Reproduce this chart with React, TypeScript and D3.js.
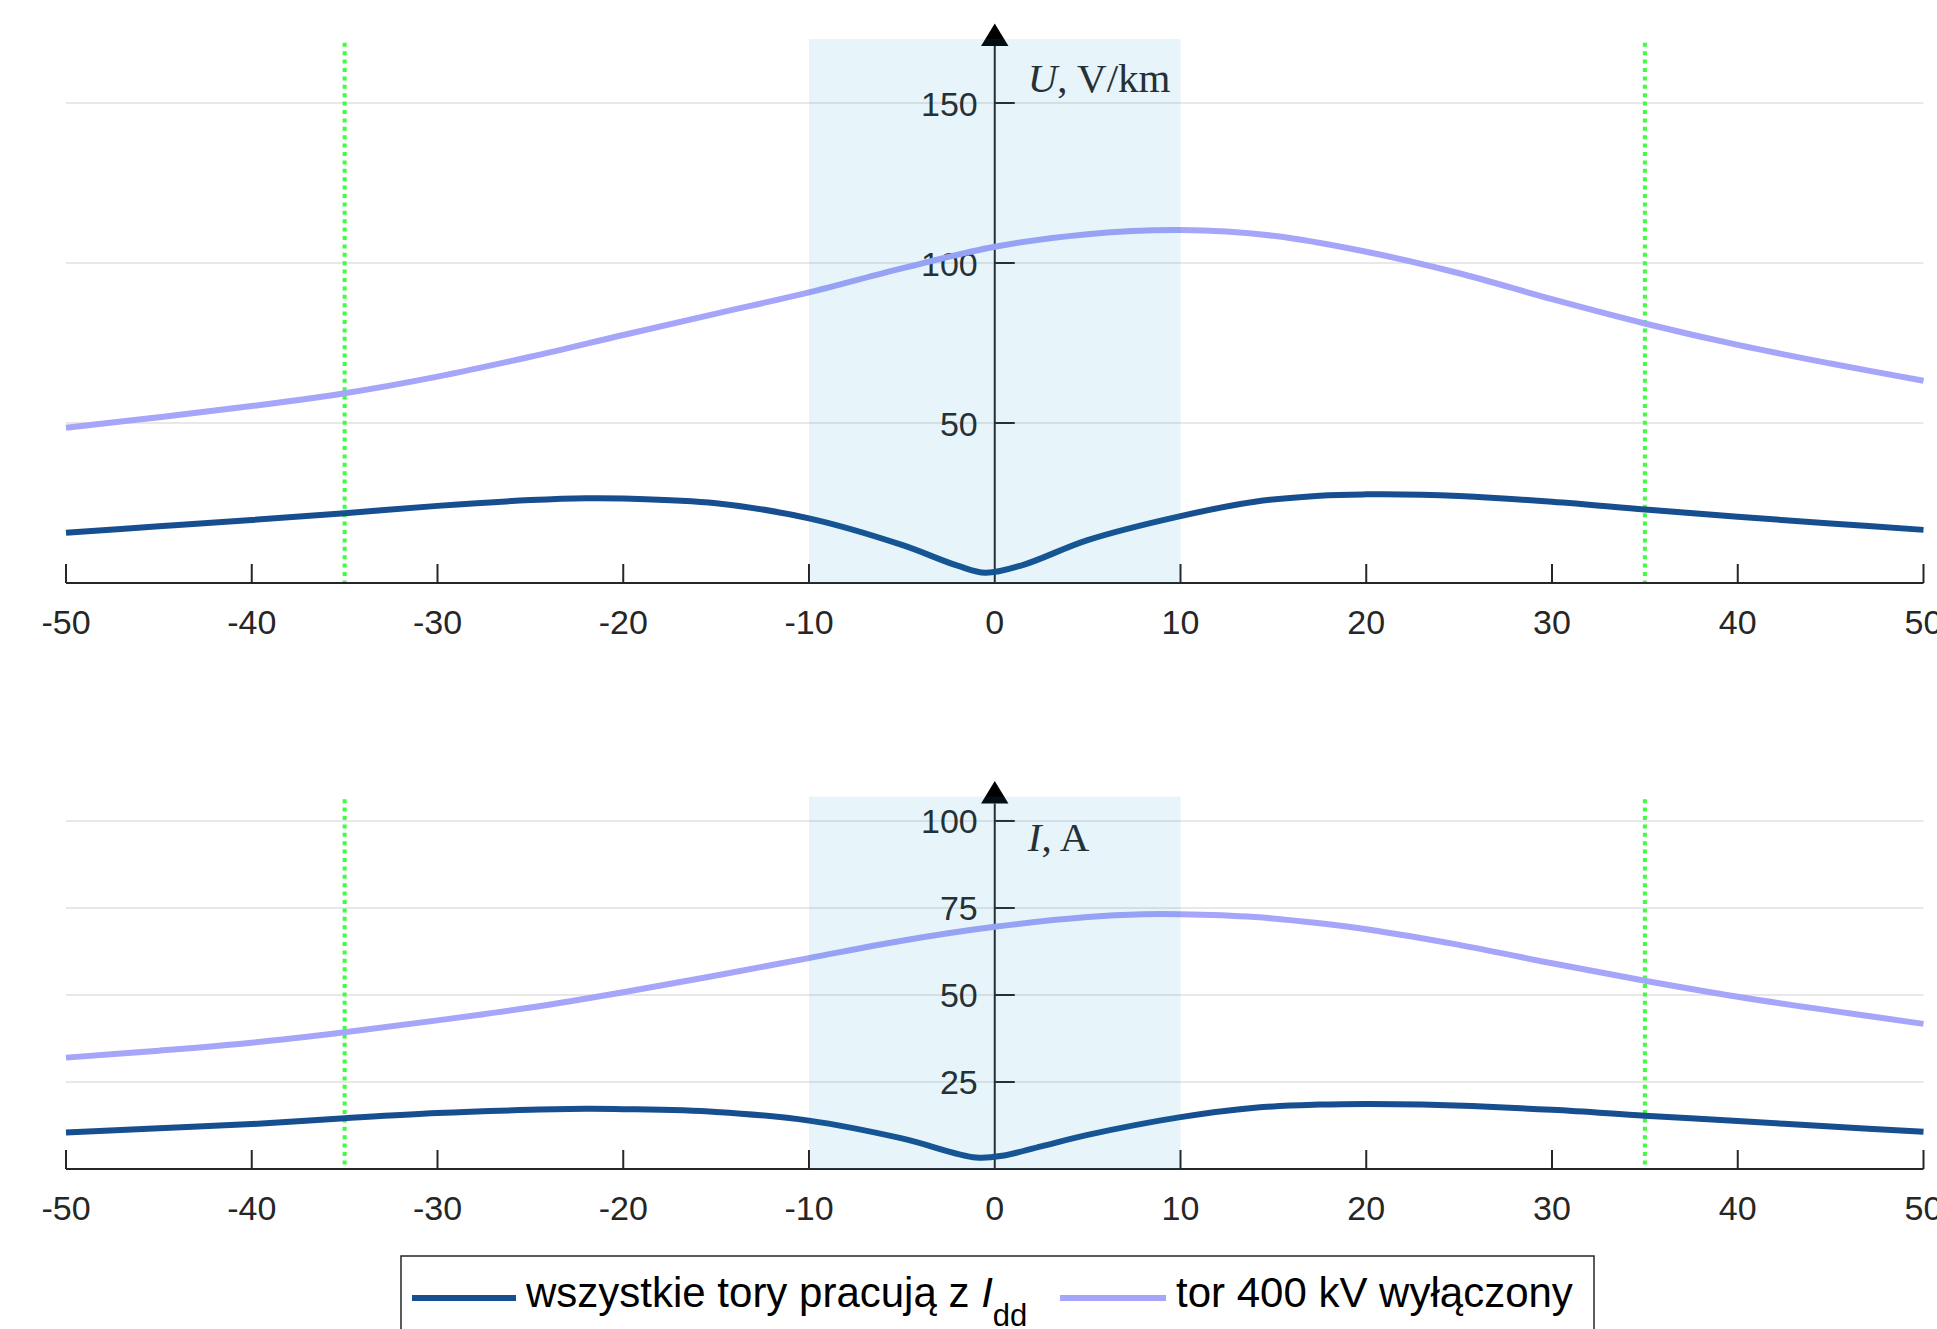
import React from 'react';
import * as d3 from 'd3';

// U, V/km  (top panel)
const uAllX = [-50, -45, -40, -35, -30, -25, -22, -20, -15, -10, -5, -2, -0.5, 1.5, 5, 10, 14, 17.5, 20, 23, 25, 30, 35, 40, 45, 50];
const uAllY = [15.7, 17.7, 19.7, 21.8, 24.1, 25.9, 26.5, 26.4, 24.9, 20.2, 11.9, 5.4, 3.2, 5.6, 13.4, 20.9, 25.4, 27.3, 27.7, 27.6, 27.2, 25.4, 23, 20.7, 18.6, 16.6];
const uOffX = [-50, -45, -40, -35, -30, -25, -20, -15, -10, -5, 0, 5, 10, 15, 20, 25, 30, 35, 40, 45, 50];
const uOffY = [48.5, 51.8, 55.3, 59.3, 64.5, 70.7, 77.5, 84.2, 90.8, 98.3, 105.1, 109, 110.3, 108.5, 103.5, 96.8, 88.7, 81.1, 74.4, 68.6, 63.2];

// I, A  (bottom panel)
const iAllX = [-50, -45, -40, -35, -30, -25, -22, -20, -15, -10, -5, -1, 0.5, 2.5, 5, 10, 14, 17.5, 20, 23, 30, 35, 40, 45, 50];
const iAllY = [10.5, 11.7, 12.9, 14.6, 16.1, 17.0, 17.3, 17.2, 16.4, 13.9, 8.8, 3.3, 3.9, 6.5, 9.8, 14.9, 17.6, 18.5, 18.7, 18.5, 17, 15.3, 13.8, 12.2, 10.7];
const iOffX = [-50, -45, -40, -35, -30, -25, -20, -15, -10, -5, 0, 5, 8, 10, 14, 17.5, 20, 25, 30, 35, 40, 45, 50];
const iOffY = [32, 34, 36.3, 39.3, 42.7, 46.4, 50.8, 55.6, 60.6, 65.6, 69.6, 72.4, 73.2, 73.2, 72.4, 70.6, 68.9, 64.4, 59.1, 54.1, 49.5, 45.5, 41.7];

const xTicks = [-50, -40, -30, -20, -10, 0, 10, 20, 30, 40, 50];
const uTicks = [0, 50, 100, 150];
const iTicks = [0, 25, 50, 75, 100];
const zoneX = [-10, 10];
const borderX = [-35, 35];

const legendLabels = ['wszystkie tory pracują z ', 'tor 400 kV wyłączony'];

const C_ALL = '#164E8F';
const C_OFF = '#A5A5FA';
const C_TXT = '#262626';
const SANS = '"Liberation Sans", Arial, Helvetica, sans-serif';
const SERIF = '"Liberation Serif", "Times New Roman", serif';

const x = d3.scaleLinear().domain([-50, 50]).range([66, 1923.5]);

type PanelProps = {
  yMax: number;
  top: number;
  bottom: number;
  ticks: number[];
  series: { xs: number[]; ys: number[]; color: string }[];
  sym: string;
  unit: string;
  labelY: number;
};

function Panel({ yMax, top, bottom, ticks, series, sym, unit, labelY }: PanelProps) {
  const y = d3.scaleLinear().domain([0, yMax]).range([bottom, top]);
  const line = d3.line<[number, number]>()
    .x(d => x(d[0]))
    .y(d => y(d[1]))
    .curve(d3.curveCatmullRom.alpha(0.5));
  const x0 = x(0);
  const arrowBase = top + 7;
  const arrowTip = arrowBase - 22.5;
  return (
    <g>
      {/* grid */}
      {ticks.filter(t => t > 0).map(t => (
        <line key={t} x1={x(-50)} x2={x(50)} y1={y(t)} y2={y(t)} stroke="#e0e0e0" strokeWidth={1.5} />
      ))}
      {/* border lines */}
      {borderX.map(b => (
        <line key={b} x1={x(b)} x2={x(b)} y1={y(yMax * 0.993)} y2={bottom}
          stroke="#3CFF3C" strokeWidth={4} strokeDasharray="4,4.4" />
      ))}
      {/* x axis */}
      <line x1={x(-50)} x2={x(50)} y1={bottom} y2={bottom} stroke={C_TXT} strokeWidth={2} />
      {xTicks.map(t => (
        <g key={t}>
          {t !== 0 && <line x1={x(t)} x2={x(t)} y1={bottom} y2={bottom - 19} stroke={C_TXT} strokeWidth={2} />}
          <text x={x(t)} y={bottom + 51} textAnchor="middle" fontFamily={SANS} fontSize={34} fill={C_TXT}>{t}</text>
        </g>
      ))}
      {/* y axis */}
      <line x1={x0} x2={x0} y1={bottom} y2={arrowBase} stroke={C_TXT} strokeWidth={2} />
      <path d={`M${x0 - 13.7},${arrowBase} L${x0 + 13.7},${arrowBase} L${x0},${arrowTip} Z`} fill="#000" />
      {ticks.map(t => (
        <g key={t}>
          <line x1={x0} x2={x0 + 20} y1={y(t)} y2={y(t)} stroke={C_TXT} strokeWidth={2} />
          {t !== 0 && (
            <text x={x0 - 17} y={y(t) + 12.5} textAnchor="end" fontFamily={SANS} fontSize={34} fill={C_TXT}>{t}</text>
          )}
        </g>
      ))}
      <text x={x0 + 33} y={labelY} fontFamily={SERIF} fontSize={41} fill={C_TXT}>
        <tspan fontStyle="italic">{sym}</tspan>{unit}
      </text>
      {/* curves */}
      {series.map((s, i) => (
        <path key={i} d={line(s.xs.map((v, k) => [v, s.ys[k]] as [number, number])) || ''}
          fill="none" stroke={s.color} strokeWidth={6} strokeLinejoin="round" />
      ))}
      {/* shaded zone overlay */}
      <rect x={x(zoneX[0])} y={y(yMax)} width={x(zoneX[1]) - x(zoneX[0])} height={bottom - y(yMax)}
        fill="rgb(15,145,195)" fillOpacity={0.1} />
    </g>
  );
}

export default function App() {
  return (
    <div style={{ position: 'absolute', left: 0, top: 0 }}>
      <svg width={1937} height={1329} style={{ display: 'block', background: '#fff' }}>
        <Panel yMax={170} top={39} bottom={583} ticks={uTicks} sym="U" unit=", V/km" labelY={92}
          series={[{ xs: uOffX, ys: uOffY, color: C_OFF }, { xs: uAllX, ys: uAllY, color: C_ALL }]} />
        <Panel yMax={107} top={796.6} bottom={1169} ticks={iTicks} sym="I" unit=", A" labelY={851}
          series={[{ xs: iOffX, ys: iOffY, color: C_OFF }, { xs: iAllX, ys: iAllY, color: C_ALL }]} />
        {/* legend */}
        <rect x={401} y={1256} width={1193} height={110} fill="#fff" stroke={C_TXT} strokeWidth={1.5} />
        <line x1={412} x2={516} y1={1298} y2={1298} stroke={C_ALL} strokeWidth={6} />
        <text x={526} y={1307} fontFamily={SANS} fontSize={42} fill="#000" xmlSpace="preserve">
          {legendLabels[0]}
          <tspan fontStyle="italic">I</tspan>
          <tspan fontSize={31} dy={19}>dd</tspan>
        </text>
        <line x1={1060} x2={1166} y1={1298} y2={1298} stroke={C_OFF} strokeWidth={6} />
        <text x={1176} y={1307} fontFamily={SANS} fontSize={42} fill="#000">{legendLabels[1]}</text>
      </svg>
    </div>
  );
}
